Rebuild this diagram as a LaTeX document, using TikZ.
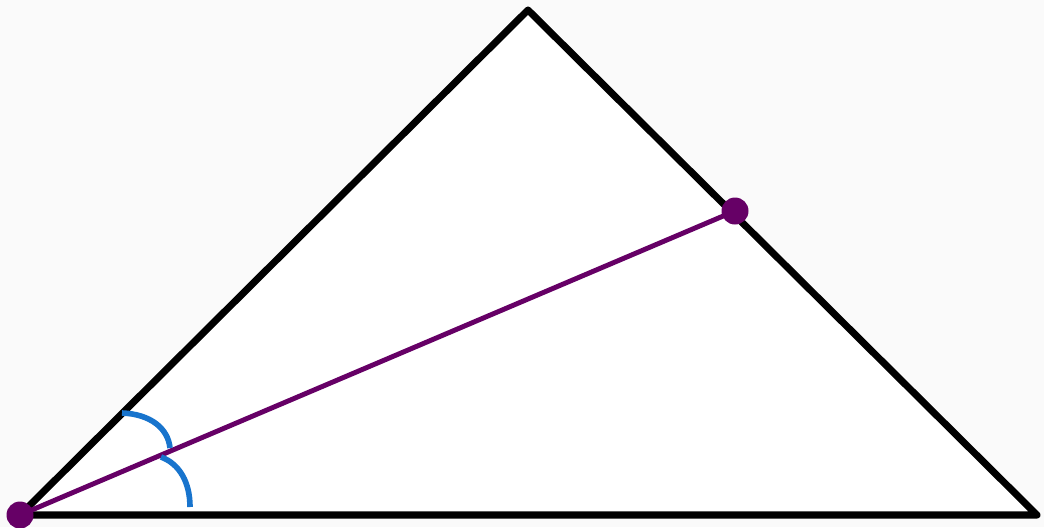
\documentclass[tikz,border=0pt]{standalone}
\usepackage{amsmath}
\usepackage{amssymb}
\definecolor{bisect}{RGB}{102,0,102}
\definecolor{arcblue}{RGB}{24,116,205}

\begin{document}
\begin{tikzpicture}[x=0.025cm, y=-0.025cm]
		\fill[black!2] (0, 0) rectangle (1044, 527);
		\useasboundingbox (0, 0) rectangle (1044, 527);
		\coordinate (A) at (20, 515);
		\coordinate (B) at (528, 10);
		\coordinate (C) at (1037, 515);
		\coordinate (D) at (735, 211);
		\draw[line width=5pt, line join=round, fill=white] (A) -- (B) -- (C) -- cycle;
		\draw[line width=3.5pt, color=bisect] (A) -- (D);
		\draw[line width=4pt, color=arcblue] (122, 413) .. controls (150, 414) and (168, 428) .. (170, 448);
		\draw[line width=4pt, color=arcblue] (161, 457) .. controls (180, 464) and (190, 483) .. (190, 507);
		\fill[bisect] (A) circle (13.5);
		\fill[bisect] (D) circle (13.5);
	\end{tikzpicture}
\end{document}
